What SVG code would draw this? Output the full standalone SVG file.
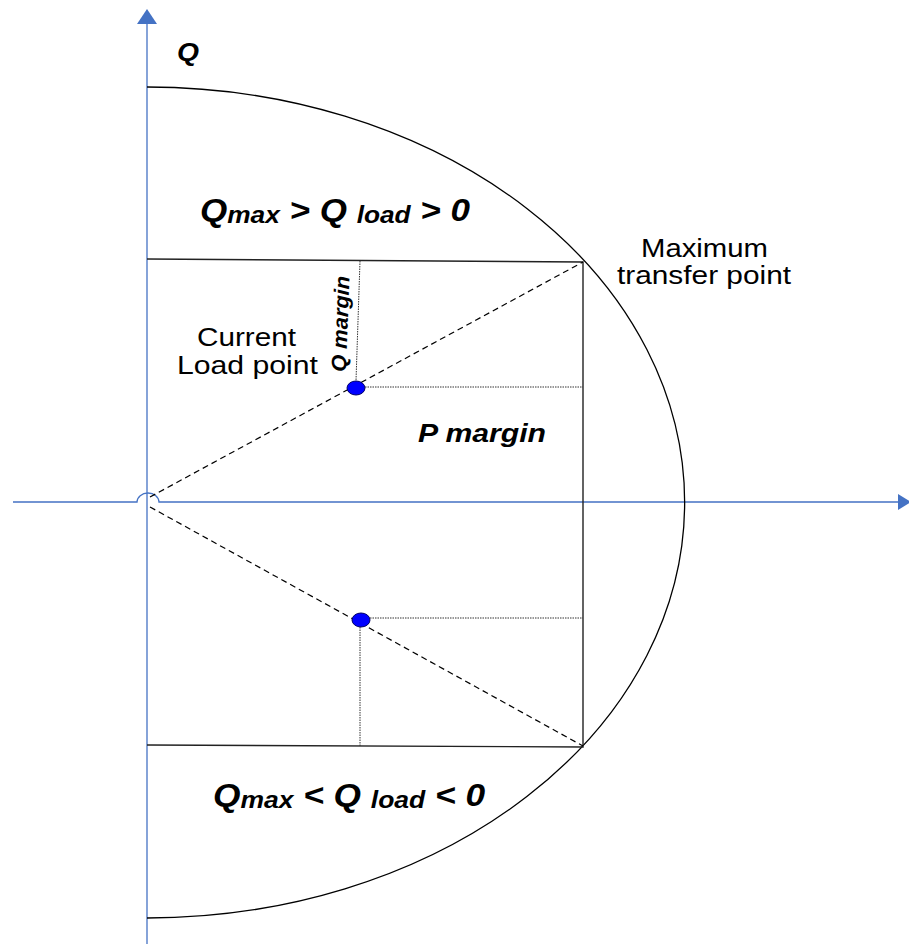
<svg xmlns="http://www.w3.org/2000/svg" width="909" height="944" viewBox="0 0 909 944">
<style>
.axis{stroke:#4472C4;stroke-width:1.3;fill:none}
.arrow{fill:#4472C4}
.curve{stroke:#000;stroke-width:1.3;fill:none}
.solid{stroke:#222;stroke-width:1.4;fill:none}
.dash{stroke:#000;stroke-width:1.2;stroke-dasharray:6 4;fill:none}
.dot{stroke:#333;stroke-width:1;stroke-dasharray:1.5 1;fill:none}
.pt{fill:#0000FF;stroke:#000066;stroke-width:1}
.lbl{font-family:"Liberation Sans",Arial,sans-serif;fill:#000}
.bi{font-weight:bold;font-style:italic}
</style>
<rect width="909" height="944" fill="#fff"/>
<g id="axes">
<path class="axis" d="M147,944 V24"/>
<polygon class="arrow" points="137,24 157,24 147,9"/>
<path class="axis" d="M13,502 H137 A11,9 0 0 1 159,502 H898"/>
<polygon class="arrow" points="898,494 898,510 911,502"/>
</g>
<g id="connectors">
<path class="curve" d="M147,87 A537,415 0 0 1 147,918"/>
<path class="solid" d="M147,259 L583,262 L583,747 L147,745"/>
<path class="dash" d="M150,497 L583,262"/>
<path class="dash" d="M150,507 L583,746"/>
<path class="dot" d="M360,261 L356,381"/>
<path class="dot" d="M365,387 L583,387"/>
<path class="dot" d="M370,618 L583,618"/>
<path class="dot" d="M360,627 L360,746"/>
</g>
<g id="load-point-upper"><ellipse class="pt" cx="356" cy="388" rx="9" ry="7"/></g>
<g id="load-point-lower"><ellipse class="pt" cx="361" cy="620" rx="9" ry="7"/></g>
<g id="labels">
<text class="lbl bi" x="177" y="61" font-size="25" textLength="22" lengthAdjust="spacingAndGlyphs">Q</text>
<text class="lbl bi" x="200" y="221" font-size="32" textLength="270" lengthAdjust="spacingAndGlyphs">Q<tspan font-size="24" dy="2">max</tspan><tspan dy="-2"> &gt; Q </tspan><tspan font-size="24" dy="2">load</tspan><tspan dy="-2"> &gt; 0</tspan></text>
<text class="lbl bi" x="213" y="806" font-size="32" textLength="272" lengthAdjust="spacingAndGlyphs">Q<tspan font-size="24" dy="2">max</tspan><tspan dy="-2"> &lt; Q </tspan><tspan font-size="24" dy="2">load</tspan><tspan dy="-2"> &lt; 0</tspan></text>
<text class="lbl" x="641" y="257" font-size="25" textLength="127" lengthAdjust="spacingAndGlyphs">Maximum</text>
<text class="lbl" x="617" y="284" font-size="25" textLength="174" lengthAdjust="spacingAndGlyphs">transfer point</text>
<text class="lbl" x="197" y="346" font-size="25" textLength="99" lengthAdjust="spacingAndGlyphs">Current</text>
<text class="lbl" x="177" y="374" font-size="25" textLength="141" lengthAdjust="spacingAndGlyphs">Load point</text>
<text class="lbl bi" x="418" y="442" font-size="25" textLength="128" lengthAdjust="spacingAndGlyphs">P margin</text>
<text class="lbl bi" font-size="21" textLength="96" lengthAdjust="spacingAndGlyphs" transform="translate(346,372) rotate(-88)">Q margin</text>
</g>
</svg>
